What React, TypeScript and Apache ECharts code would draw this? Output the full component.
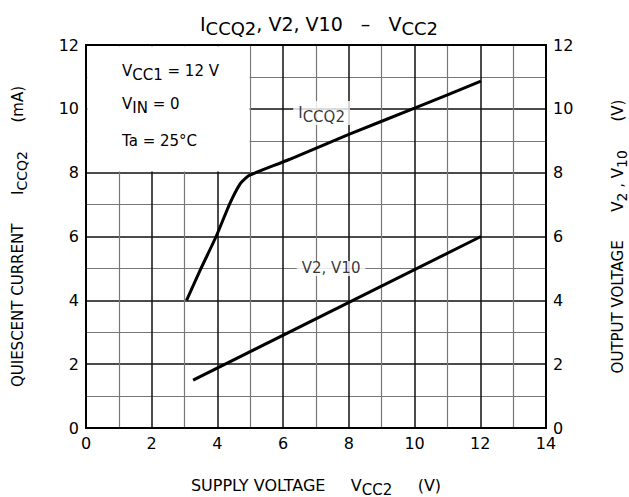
import React, { useEffect, useRef } from "react";
import * as echarts from "echarts";

const iccq2X = [3.06, 3.5, 3.96, 4.38, 4.69, 4.86, 5.0, 6.2, 8, 10, 12.02];
const iccq2Y = [4.0, 5.0, 6.0, 7.04, 7.65, 7.83, 7.93, 8.42, 9.2, 10.02, 10.87];
const v2X = [3.26, 12.02];
const v2Y = [1.5, 6.0];

const FONT = "DejaVu Sans";

export default function App() {
  const ref = useRef<HTMLDivElement>(null);
  useEffect(() => {
    const chart = echarts.init(ref.current!, null, { renderer: "svg", width: 629, height: 497 });
    const sub = (size: number, pad: number) => ({
      fontSize: size,
      fontFamily: FONT,
      fontWeight: "normal" as const,
      color: "#000",
      padding: [pad, 0, 0, 0],
    });
    const main = (size: number) => ({
      fontSize: size,
      fontFamily: FONT,
      fontWeight: "normal" as const,
      color: "#000",
    });
    const yName = {
      fontSize: 15,
      fontFamily: FONT,
      color: "#000",
      rich: { m: main(15), s: sub(14, 9) },
    };
    const xName = {
      fontSize: 16,
      fontFamily: FONT,
      color: "#000",
      rich: { m: main(16), s: sub(15, 9) },
    };
    const tickLabel = { fontSize: 16, fontFamily: FONT, color: "#000", margin: 7 };
    const frame = { show: true, onZero: false, lineStyle: { color: "#000", width: 2 } };
    chart.setOption({
      animation: false,
      title: {
        text: "{m|I}{s|CCQ2}{m|, V2, V10   –   V}{s|CC2}",
        left: 314,
        textAlign: "center",
        top: 6,
        textStyle: {
          fontWeight: "normal",
          rich: { m: main(19), s: sub(18, 8) },
        },
      },
      grid: {
        left: 86,
        top: 45,
        width: 460,
        height: 383,
        containLabel: false,
        outerBoundsMode: "none",
      },
      xAxis: [
        {
          type: "value",
          min: 0,
          max: 14,
          interval: 2,
          position: "bottom",
          name: "SUPPLY VOLTAGE     V{s|CC2}     (V)",
          nameLocation: "middle",
          nameGap: 45,
          nameTextStyle: xName,
          axisLine: frame,
          axisTick: { show: false },
          axisLabel: tickLabel,
          splitLine: { show: true, lineStyle: { color: "#111", width: 1.5 } },
          minorTick: { show: false, splitNumber: 2 },
          minorSplitLine: { show: true, lineStyle: { color: "#777", width: 1.2 } },
        },
        {
          type: "value",
          min: 0,
          max: 14,
          interval: 2,
          position: "top",
          axisLine: frame,
          axisTick: { show: false },
          axisLabel: { show: false },
          splitLine: { show: false },
        },
      ],
      yAxis: [
        {
          type: "value",
          min: 0,
          max: 12,
          interval: 2,
          position: "left",
          name: "QUIESCENT CURRENT      I{s|CCQ2}      (mA)",
          nameLocation: "middle",
          nameRotate: 90,
          nameGap: 57,
          nameTextStyle: yName,
          axisLine: frame,
          axisTick: { show: false },
          axisLabel: tickLabel,
          splitLine: { show: true, lineStyle: { color: "#111", width: 1.5 } },
          minorTick: { show: false, splitNumber: 2 },
          minorSplitLine: { show: true, lineStyle: { color: "#777", width: 1.2 } },
        },
        {
          type: "value",
          min: 0,
          max: 12,
          interval: 2,
          position: "right",
          name: "OUTPUT VOLTAGE      V{s|2} , V{s|10}      (V)",
          nameLocation: "middle",
          nameRotate: 90,
          nameGap: 60,
          nameTextStyle: yName,
          axisLine: frame,
          axisTick: { show: false },
          axisLabel: { ...tickLabel, margin: 7 },
          splitLine: { show: false },
        },
      ],
      series: [
        {
          type: "line",
          name: "box",
          data: [],
          silent: true,
          markArea: {
            silent: true,
            itemStyle: { color: "#fff", opacity: 1 },
            data: [[{ coord: [0.04, 8.04] }, { coord: [4.98, 11.96] }]],
          },
        },
        {
          type: "line",
          name: "ICCQ2",
          data: iccq2X.map((x, i) => [x, iccq2Y[i]]),
          showSymbol: false,
          smooth: 0.2,
          lineStyle: { color: "#000", width: 3 },
          z: 5,
        },
        {
          type: "line",
          name: "V2",
          data: v2X.map((x, i) => [x, v2Y[i]]),
          showSymbol: false,
          lineStyle: { color: "#000", width: 3 },
          z: 5,
        },
        {
          type: "scatter",
          name: "labels",
          symbolSize: 0,
          silent: true,
          z: 6,
          data: [
            { value: [7.17, 9.87], label: { formatter: "{m|I}{s|CCQ2}" } },
            { value: [7.46, 5.0], label: { formatter: "{m|V2, V10}" } },
          ],
          label: {
            show: true,
            position: "inside",
            backgroundColor: "#fff",
            padding: [0, 5, 0, 5],
            rich: { m: main(15), s: sub(15, 9) },
          },
        },
      ],
      graphic: [
        {
          type: "text",
          left: 122,
          top: 63,
          style: {
            text: "{m|V}{s|CC1}{m| = 12 V}",
            rich: { m: main(15), s: sub(15, 8) },
          },
          z: 10,
        },
        {
          type: "text",
          left: 122,
          top: 96,
          style: {
            text: "{m|V}{s|IN}{m| = 0}",
            rich: { m: main(15), s: sub(15, 8) },
          },
          z: 10,
        },
        {
          type: "text",
          left: 122,
          top: 133,
          style: {
            text: "Ta = 25°C",
            fontSize: 15,
            fontFamily: FONT,
            fill: "#000",
          },
          z: 10,
        },
      ],
    });
    return () => chart.dispose();
  }, []);
  return <div ref={ref} style={{ width: 629, height: 497, position: "absolute", left: 0, top: 0 }} />;
}
